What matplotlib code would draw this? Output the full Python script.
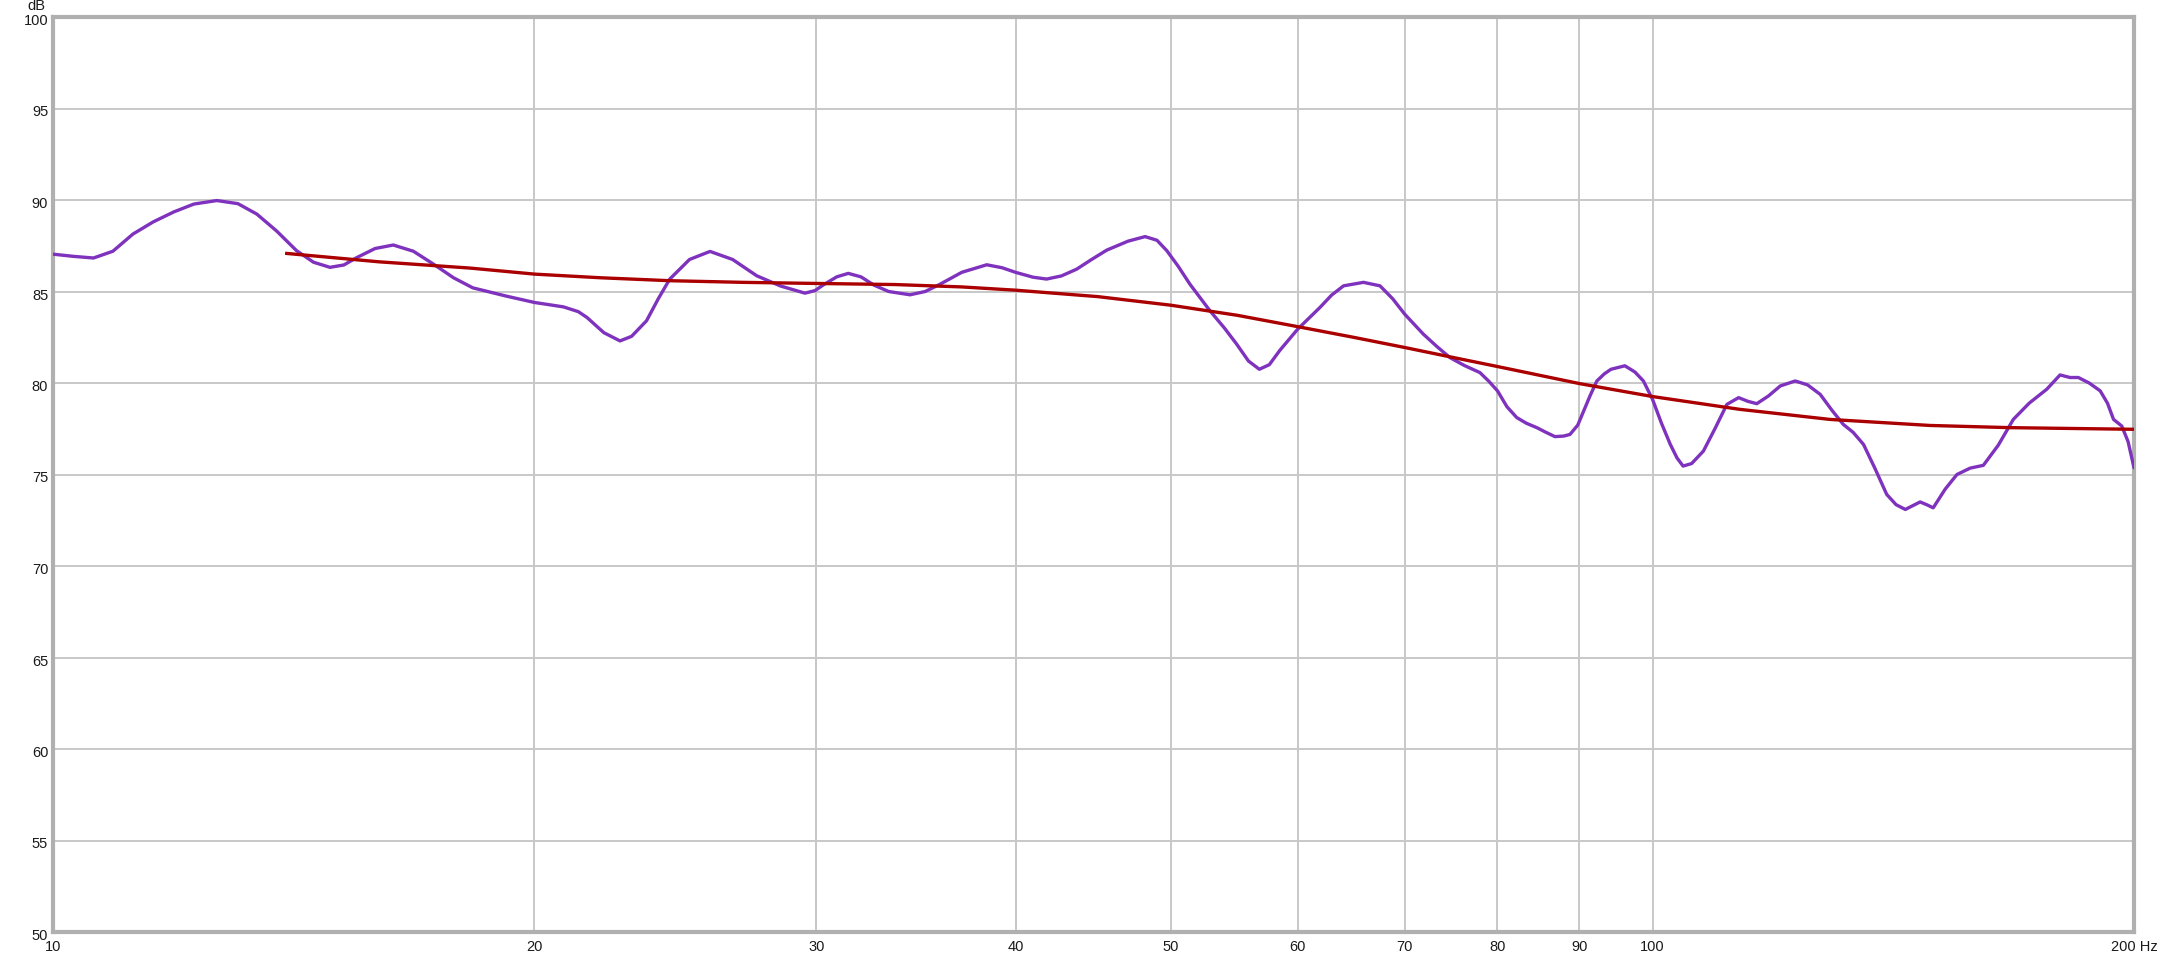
import matplotlib
matplotlib.use("Agg")
import matplotlib.pyplot as plt
import matplotlib.transforms as mtransforms
from matplotlib.ticker import FixedLocator, FixedFormatter, NullLocator

plt.rcParams['font.family'] = ['Liberation Sans', 'DejaVu Sans']

# Measured response (purple)
meas_freq = [10.0, 10.3, 10.6, 10.9, 11.22, 11.55, 11.9, 12.25, 12.66, 13.05, 13.41,
             13.8, 14.2, 14.55, 14.9, 15.2, 15.49, 15.9, 16.32, 16.8, 17.29, 17.8,
             18.3, 19.2, 20.0, 20.85, 21.3, 21.57, 22.1, 22.62, 23.0, 23.5, 23.9,
             24.3, 25.0, 25.75, 26.6, 27.54, 28.5, 29.52, 29.95, 30.3, 30.9, 31.42,
             32.0, 32.6, 33.3, 34.34, 35.1, 35.86, 37.0, 38.35, 39.2, 40.0, 41.0,
             41.8, 42.7, 43.65, 44.6, 45.58, 47.0, 48.17, 49.0, 49.7, 50.5, 51.38,
             52.88, 54.0, 54.96, 55.9, 56.78, 57.6, 58.5, 60.0, 61.96, 63.0, 64.1,
             65.96, 67.55, 68.8, 70.0, 71.9, 73.3, 74.7, 76.3, 78.0, 79.0, 80.0,
             81.1, 82.25, 83.4, 84.66, 85.8, 86.9, 88.0, 88.8, 89.8, 90.5, 91.4,
             92.3, 93.3, 94.2, 96.1, 97.5, 98.7, 100.0, 101.3, 102.6, 103.6, 104.5,
             105.8, 107.6, 109.4, 111.3, 113.2, 114.7, 116.2, 118.2, 120.2, 122.8,
             125.0, 127.3, 129.5, 131.6, 133.5, 135.5, 137.8, 140.1, 142.0, 143.9,
             145.5, 147.0, 148.4, 149.8, 152.4, 155.0, 158.0, 161.0, 164.5, 168.1,
             172.0, 176.4, 179.8, 182.4, 184.6, 187.5, 190.5, 192.5, 194.2, 196.5,
             198.3, 200.0]
meas_db = [87.04, 86.92, 86.83, 87.2, 88.14, 88.8, 89.35, 89.78, 89.97, 89.8, 89.23,
           88.3, 87.23, 86.6, 86.32, 86.45, 86.86, 87.35, 87.54, 87.2, 86.5, 85.75,
           85.2, 84.75, 84.4, 84.16, 83.9, 83.58, 82.75, 82.3, 82.55, 83.4, 84.6,
           85.68, 86.75, 87.19, 86.75, 85.86, 85.3, 84.91, 85.05, 85.35, 85.8, 85.99,
           85.8, 85.35, 85.0, 84.82, 85.0, 85.4, 86.05, 86.46, 86.3, 86.04, 85.78,
           85.68, 85.85, 86.22, 86.75, 87.26, 87.75, 88.0, 87.8, 87.23, 86.4, 85.4,
           83.95, 83.0, 82.12, 81.2, 80.75, 81.0, 81.8, 82.94, 84.13, 84.8, 85.31,
           85.5, 85.31, 84.6, 83.76, 82.67, 82.0, 81.39, 80.95, 80.57, 80.1, 79.57,
           78.7, 78.11, 77.8, 77.56, 77.3, 77.07, 77.1, 77.19, 77.7, 78.4, 79.3,
           80.11, 80.5, 80.75, 80.94, 80.6, 80.11, 79.11, 77.8, 76.64, 75.9, 75.46,
           75.6, 76.28, 77.5, 78.83, 79.2, 79.0, 78.87, 79.3, 79.84, 80.11,
           79.9, 79.38, 78.5, 77.74, 77.3, 76.64, 75.3, 73.91, 73.35, 73.09,
           73.3, 73.5, 73.35, 73.18, 74.2, 75.0, 75.35, 75.5, 76.6, 78.01,
           78.9, 79.66, 80.44, 80.3, 80.3, 80.0, 79.57, 78.9, 78.01, 77.65,
           76.8, 75.37]

# Target / fitted curve (red)
fit_freq = [14.0, 16.0, 18.23, 20.0, 22.0, 24.3, 27.0, 30.0, 33.6, 37.0, 40.0, 45.0,
            50.0, 55.0, 60.0, 65.0, 70.0, 75.0, 80.0, 90.0, 100.0, 113.4, 129.1,
            149.1, 167.3, 200.0]
fit_db = [87.08, 86.62, 86.28, 85.95, 85.75, 85.59, 85.5, 85.44, 85.38, 85.25, 85.07,
          84.72, 84.25, 83.7, 83.08, 82.5, 81.94, 81.4, 80.9, 79.97, 79.26, 78.56,
          78.01, 77.68, 77.56, 77.47]

x_ticks = [10, 20, 30, 40, 50, 60, 70, 80, 90, 100, 200]
x_labels = ["10", "20", "30", "40", "50", "60", "70", "80", "90", "100", "200 Hz"]
y_ticks = [50, 55, 60, 65, 70, 75, 80, 85, 90, 95, 100]
y_labels = [str(v) for v in y_ticks]

fig = plt.figure(figsize=(21.6, 9.62), dpi=100)
ax = fig.add_axes([53/2160, 1 - 933/962, (2134-53)/2160, (933-18)/962])

ax.plot(meas_freq, meas_db, color='#7e32bd', lw=2.4, solid_joinstyle='round',
        solid_capstyle='round', zorder=3)
ax.plot(fit_freq, fit_db, color='#aa0000', lw=2.4, solid_joinstyle='round', zorder=4)

ax.set_xscale('log')
ax.set_xlim(10, 200)
ax.set_ylim(50, 100)
ax.xaxis.set_major_locator(FixedLocator(x_ticks))
ax.xaxis.set_major_formatter(FixedFormatter(x_labels))
ax.xaxis.set_minor_locator(NullLocator())
ax.yaxis.set_major_locator(FixedLocator(y_ticks))
ax.yaxis.set_major_formatter(FixedFormatter(y_labels))
ax.tick_params(axis='both', length=0, labelsize=10.5, colors='#1a1a1a')
ax.tick_params(axis='x', pad=5)
ax.tick_params(axis='y', pad=3.5)

# y tick labels sit slightly below their grid lines in the reference
offset = mtransforms.ScaledTranslation(0, -1.5/100, fig.dpi_scale_trans)
for lbl in ax.get_yticklabels():
    lbl.set_transform(lbl.get_transform() + offset)

ax.grid(True, color='#c8c8c8', lw=1.4, zorder=0)
ax.set_axisbelow(True)
for s in ax.spines.values():
    s.set_color('#b0b0b0')
    s.set_linewidth(3)

fig.text(45/2160, 1 - 10/962, "dB", ha='right', va='baseline', fontsize=10.5, color='#1a1a1a')

fig.savefig("out.png", dpi=100, facecolor='white')
